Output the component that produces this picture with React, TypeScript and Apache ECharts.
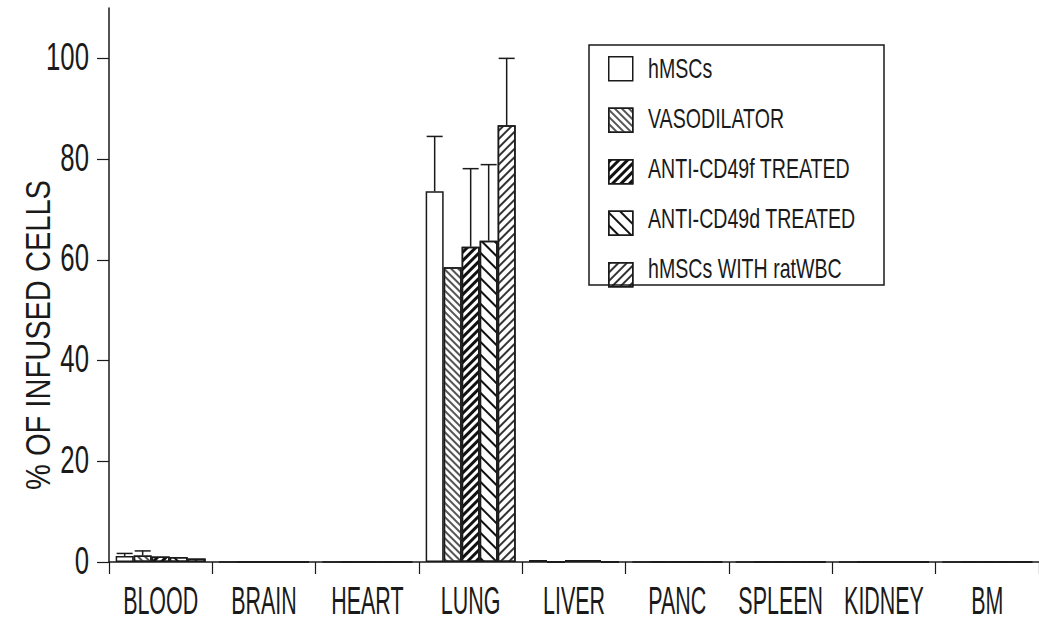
import React, { useEffect, useRef } from "react";
import * as echarts from "echarts";

const categories = ["BLOOD", "BRAIN", "HEART", "LUNG", "LIVER", "PANC", "SPLEEN", "KIDNEY", "BM"];
const seriesNames = ["hMSCs", "VASODILATOR", "ANTI-CD49f TREATED", "ANTI-CD49d TREATED", "hMSCs WITH ratWBC"];
const hMSCs = [1.2, 0, 0, 73.6, 0.4, 0, 0, 0, 0];
const vasodilator = [1.3, 0, 0, 58.5, 0, 0, 0, 0, 0];
const antiCD49f = [1.1, 0, 0, 62.6, 0.4, 0, 0, 0, 0];
const antiCD49d = [1.0, 0, 0, 63.8, 0.4, 0, 0, 0, 0];
const ratWBC = [0.7, 0, 0, 86.7, 0, 0, 0, 0, 0];
const hMSCsErr = [0.5, 0, 0, 10.9, 0, 0, 0, 0, 0];
const vasodilatorErr = [0.9, 0, 0, 0, 0, 0, 0, 0, 0];
const antiCD49fErr = [0, 0, 0, 15.5, 0, 0, 0, 0, 0];
const antiCD49dErr = [0, 0, 0, 15.1, 0, 0, 0, 0, 0];
const ratWBCErr = [0, 0, 0, 13.3, 0, 0, 0, 0, 0];
const yTicks = [0, 20, 40, 60, 80, 100];
const yTitle = "% OF INFUSED CELLS";

const FONT = "'Liberation Sans', Arial, sans-serif";
const INK = "#1a1a1a";
const BAR_W = 18;

export default function App() {
  const ref = useRef<HTMLDivElement>(null);
  useEffect(() => {
    const chart = echarts.init(ref.current!, null, { renderer: "svg" });
    const values = [hMSCs, vasodilator, antiCD49f, antiCD49d, ratWBC];
    const errs = [hMSCsErr, vasodilatorErr, antiCD49fErr, antiCD49dErr, ratWBCErr];
    const decals: any[] = [
      null,
      { symbol: "rect", symbolSize: 1, color: "#555", dashArrayX: [1, 0], dashArrayY: [2, 3], rotation: Math.PI / 4, backgroundColor: "#fff" },
      { symbol: "rect", symbolSize: 1, color: "#111", dashArrayX: [1, 0], dashArrayY: [2.5, 3], rotation: -Math.PI / 4, backgroundColor: "#fff" },
      { symbol: "rect", symbolSize: 1, color: "#111", dashArrayX: [1, 0], dashArrayY: [2, 7], rotation: Math.PI / 4, backgroundColor: "#fff" },
      { symbol: "rect", symbolSize: 1, color: "#333", dashArrayX: [1, 0], dashArrayY: [1.5, 4], rotation: -Math.PI / 4, backgroundColor: "#fff" },
    ];
    const barSeries = seriesNames.map((name, i) => ({
      name,
      type: "bar",
      data: values[i],
      barWidth: BAR_W,
      barGap: "0%",
      itemStyle: {
        color: "#fff",
        borderColor: INK,
        borderWidth: 1.5,
        decal: decals[i] || undefined,
      },
    }));
    const errData: number[][] = [];
    errs.forEach((arr, i) => {
      arr.forEach((e, j) => {
        if (e > 0) errData.push([j, values[i][j], values[i][j] + e, i]);
      });
    });
    const option: any = {
      animation: false,
      grid: { left: 109, right: 0, top: 8, bottom: 63, containLabel: false },
      xAxis: {
        type: "category",
        data: categories,
        axisLine: { lineStyle: { color: INK, width: 1.5 } },
        axisTick: { show: true, interval: 0, length: 12, lineStyle: { color: INK, width: 1.2 } },
        axisLabel: { show: false },
      },
      yAxis: {
        type: "value",
        min: 0,
        max: 110,
        interval: 20,
        splitLine: { show: false },
        axisLine: { show: true, lineStyle: { color: INK, width: 1.5 } },
        axisTick: { show: true, length: 12, customValues: yTicks, lineStyle: { color: INK, width: 1.2 } },
        axisLabel: { show: false },
      },
      legend: {
        orient: "vertical",
        left: 608,
        top: 56,
        padding: 0,
        itemWidth: 24,
        itemHeight: 24,
        itemGap: 26,
        itemStyle: { borderColor: INK, borderWidth: 1.5 },
        icon: "rect",
        data: seriesNames,
        selectedMode: false,
        formatter: () => " ",
        textStyle: { fontSize: 10, lineHeight: 24 },
      },
      series: [
        ...barSeries,
        {
          type: "custom",
          name: "err",
          data: errData,
          z: 5,
          renderItem: (params: any, api: any) => {
            const cat = api.value(0);
            const lo = api.coord([cat, api.value(1)]);
            const hi = api.coord([cat, api.value(2)]);
            const x = lo[0] + (api.value(3) - 2) * BAR_W;
            const capHalf = 8;
            const style = { stroke: INK, lineWidth: 1.5 };
            return {
              type: "group",
              children: [
                { type: "line", shape: { x1: x, y1: lo[1], x2: x, y2: hi[1] }, style },
                { type: "line", shape: { x1: x - capHalf, y1: hi[1], x2: x + capHalf, y2: hi[1] }, style },
              ],
            };
          },
        },
      ],
    };
    chart.setOption(option);

    // texts: condensed typeface imitated with horizontal scaling, placed from the axes' own scales
    const y0 = chart.convertToPixel({ yAxisIndex: 0 }, 0) as number;
    const xLeft = chart.convertToPixel({ xAxisIndex: 0 }, 0) as number;
    const bandW = (chart.convertToPixel({ xAxisIndex: 0 }, 1) as number) - xLeft;
    const axisX = xLeft - bandW / 2;
    const graphics: any[] = [];
    categories.forEach((c, j) => {
      graphics.push({
        type: "text",
        x: chart.convertToPixel({ xAxisIndex: 0 }, j) as number,
        y: y0 + 39,
        scaleX: 0.55,
        style: { text: c, fontFamily: FONT, fontSize: 39, fill: INK, align: "center", verticalAlign: "middle" },
      });
    });
    yTicks.forEach((v) => {
      graphics.push({
        type: "text",
        x: axisX - 20,
        y: (chart.convertToPixel({ yAxisIndex: 0 }, v) as number) - 2,
        scaleX: 0.66,
        style: { text: String(v), fontFamily: FONT, fontSize: 39, fill: INK, align: "right", verticalAlign: "middle" },
      });
    });
    seriesNames.forEach((n, i) => {
      graphics.push({
        type: "text",
        x: 648,
        y: 68 + i * 50,
        scaleX: 0.7,
        style: { text: n, fontFamily: FONT, fontSize: 28, fill: INK, align: "left", verticalAlign: "middle" },
      });
    });
    graphics.push({
      type: "text",
      x: 38,
      y: 335,
      rotation: Math.PI / 2,
      scaleX: 0.83,
      style: { text: yTitle, fontFamily: FONT, fontSize: 35, fill: INK, align: "center", verticalAlign: "middle" },
    });
    graphics.push({
      type: "rect",
      x: 589,
      y: 45,
      shape: { width: 295, height: 240 },
      style: { fill: "none", stroke: INK, lineWidth: 1.5 },
      z: 10,
    });
    chart.setOption({ graphic: graphics });
    return () => chart.dispose();
  }, []);
  return <div ref={ref} style={{ position: "absolute", left: 0, top: 0, width: 1039, height: 625 }} />;
}
